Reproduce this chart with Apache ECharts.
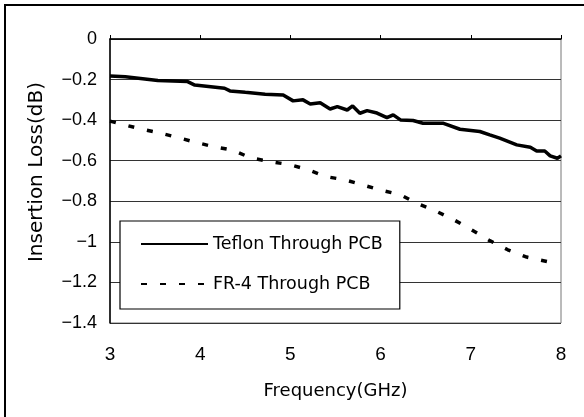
<!DOCTYPE html>
<html>
<head>
<meta charset="utf-8">
<script src="https://cdn.jsdelivr.net/npm/echarts@6/dist/echarts.min.js"></script>
<style>html,body{margin:0;padding:0;background:#fff}#c{width:584px;height:417px}</style>
</head>
<body>
<div id="c"></div>
<script>
const seriesNames = ['Teflon Through PCB', 'FR-4 Through PCB'];
const teflonFreq = [3.0, 3.02, 3.17, 3.53, 3.86, 3.94, 4.27, 4.33, 4.50, 4.72, 4.92, 5.03, 5.14, 5.22, 5.33, 5.44, 5.52, 5.63, 5.69, 5.77, 5.85, 5.96, 6.07, 6.14, 6.22, 6.36, 6.47, 6.69, 6.88, 7.10, 7.21, 7.32, 7.51, 7.66, 7.73, 7.82, 7.88, 7.96, 8.0];
const teflonLoss = [-0.182, -0.177, -0.186, -0.205, -0.21, -0.227, -0.243, -0.256, -0.263, -0.272, -0.276, -0.305, -0.30, -0.32, -0.314, -0.345, -0.333, -0.35, -0.33, -0.366, -0.353, -0.365, -0.388, -0.374, -0.399, -0.402, -0.415, -0.415, -0.445, -0.456, -0.473, -0.489, -0.522, -0.534, -0.552, -0.552, -0.576, -0.588, -0.576];
const fr4Freq = [3.0, 3.31, 3.52, 3.74, 3.93, 4.14, 4.36, 4.56, 4.76, 5.0, 5.2, 5.39, 5.61, 5.80, 6.02, 6.22, 6.40, 6.60, 6.80, 7.01, 7.21, 7.41, 7.62, 7.88];
const fr4Loss = [-0.405, -0.44, -0.46, -0.484, -0.507, -0.53, -0.548, -0.586, -0.603, -0.62, -0.645, -0.678, -0.695, -0.719, -0.747, -0.768, -0.81, -0.846, -0.888, -0.941, -0.994, -1.039, -1.075, -1.10];
const xTicks = [3, 4, 5, 6, 7, 8];
const yTicks = [0, -0.2, -0.4, -0.6, -0.8, -1, -1.2, -1.4];

const zip = (a, b) => a.map((v, i) => [v, b[i]]);
const chart = echarts.init(document.getElementById('c'), null, {renderer: 'canvas'});
chart.setOption({
  backgroundColor: '#fff',
  animation: false,
  grid: {left: 110, right: 23, top: 39, bottom: 94, show: true, borderColor: '#777', borderWidth: 1, backgroundColor: 'transparent'},
  xAxis: {
    type: 'value', min: xTicks[0], max: xTicks[xTicks.length - 1], interval: 1,
    name: 'Frequency(GHz)', nameLocation: 'middle', nameGap: 59,
    nameTextStyle: {fontFamily: 'DejaVu Sans', fontSize: 18, color: '#000'},
    axisLine: {lineStyle: {color: '#000', width: 1.5}},
    axisTick: {inside: true, length: 4, lineStyle: {color: '#000'}},
    axisLabel: {fontFamily: 'Liberation Sans', fontSize: 19, color: '#000', margin: 22},
    splitLine: {show: false}
  },
  yAxis: {
    type: 'value', min: yTicks[yTicks.length - 1], max: yTicks[0], interval: 0.2,
    name: 'Insertion Loss(dB)', nameLocation: 'middle', nameGap: 63,
    nameTextStyle: {fontFamily: 'DejaVu Sans', fontSize: 20, color: '#000', padding: [0, 0, 0, 18]},
    axisLine: {show: true, lineStyle: {color: '#000', width: 1.5}},
    axisTick: {show: false},
    axisLabel: {fontFamily: 'Liberation Sans', fontSize: 18, color: '#000', margin: 13,
      formatter: v => (Math.round(v * 10) / 10).toString().replace('-', '\u2212')},
    splitLine: {lineStyle: {color: '#333', width: 1}}
  },
  legend: {
    orient: 'vertical', left: 120, top: 221,
    backgroundColor: '#fff', borderColor: '#000', borderWidth: 1.2,
    padding: [14, 17, 16, 20], itemWidth: 67, itemHeight: 14, itemGap: 22,
    itemStyle: {opacity: 0},
    textStyle: {fontFamily: 'DejaVu Sans', fontSize: 17.5, color: '#000', lineHeight: 14, padding: [0, 0, 0, 0]},
    data: seriesNames
  },
  graphic: [{
    type: 'polyline', shape: {points: [[5, 417], [5, 5], [584, 5]]},
    style: {stroke: '#000', lineWidth: 2, fill: null}, silent: true
  }],
  series: [
    {name: seriesNames[0], type: 'line', data: zip(teflonFreq, teflonLoss), symbol: 'none',
      lineStyle: {color: '#000', width: 3.5}, itemStyle: {color: '#000'}},
    {name: seriesNames[1], type: 'line', data: zip(fr4Freq, fr4Loss), symbol: 'none',
      lineStyle: {color: '#000', width: 3.5, type: [6, 13]}, itemStyle: {color: '#000'}}
  ]
});
</script>
</body>
</html>
